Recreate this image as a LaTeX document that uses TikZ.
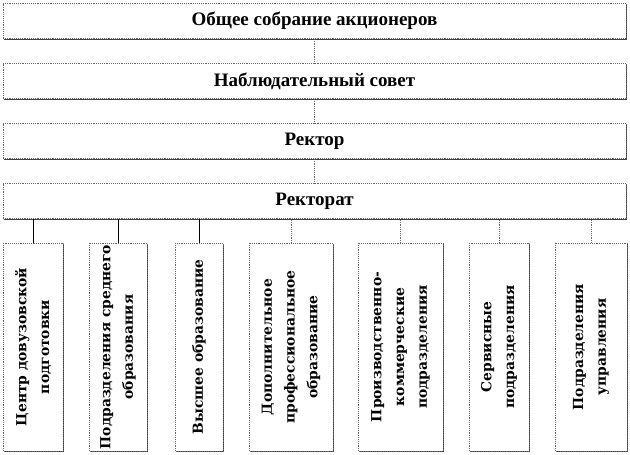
\documentclass[tikz,border=0pt]{standalone}
\usepackage{fontspec}
\setmainfont{Liberation Serif}
\newfontfamily\unitfont{DejaVu Serif}
\usetikzlibrary{shadows}

\begin{document}
\begin{tikzpicture}[x=0.75pt,y=-0.75pt,
	boks/.style={draw=black!60,densely dotted,fill=white,inner sep=0pt,
		drop shadow={shadow xshift=0.75pt,shadow yshift=-0.75pt,fill=black!75,opacity=1}},
	head/.style={boks,minimum width=467.25pt,minimum height=26.25pt,
		font=\bfseries\fontsize{14.25}{16}\selectfont},
	unit/.style={boks,rotate=90,align=center,minimum width=156pt,
		font=\unitfont\bfseries\fontsize{10.4}{17}\selectfont}]
	\useasboundingbox (0,0) rectangle (630,454);
	% levels of management
	\node[head] (obs) at (314.5,21) {Общее собрание акционеров};
	\node[head] (nab) at (314.5,81) {Наблюдательный совет};
	\node[head] (rek) at (314.5,141) {Ректор};
	\node[head] (rkt) at (314.5,201) {Ректорат};
	% units
	\node[unit,minimum height=45pt] (u1) at (33,347) {Центр довузовской\\подготовки};
	\node[unit,minimum height=43.5pt] (u2) at (118,347) {Подразделения среднего\\образования};
	\node[unit,minimum height=36pt] (u3) at (199,347) {Высшее образование};
	\node[unit,minimum height=63pt] (u4) at (291,347) {Дополнительное\\профессиональное\\образование};
	\node[unit,minimum height=63.75pt] (u5) at (400.5,347) {Производственно-\\коммерческие\\подразделения};
	\node[unit,minimum height=45pt] (u6) at (499,347) {Сервисные\\подразделения};
	\node[unit,minimum height=54pt] (u7) at (591,347) {Подразделения\\управления};
	% connectors
	\path[draw=black!60,densely dotted]
	(obs) edge (nab)
	(nab) edge (rek)
	(rek) edge (rkt);
	\path[draw=black,line width=0.6pt]
	(u1.east) edge (u1.east |- rkt.south)
	(u2.east) edge (u2.east |- rkt.south)
	(u3.east) edge (u3.east |- rkt.south);
	\path[draw=black!60,densely dotted]
	(u4.east) edge (u4.east |- rkt.south)
	(u5.east) edge (u5.east |- rkt.south)
	(u6.east) edge (u6.east |- rkt.south)
	(u7.east) edge (u7.east |- rkt.south);
\end{tikzpicture}
\end{document}
